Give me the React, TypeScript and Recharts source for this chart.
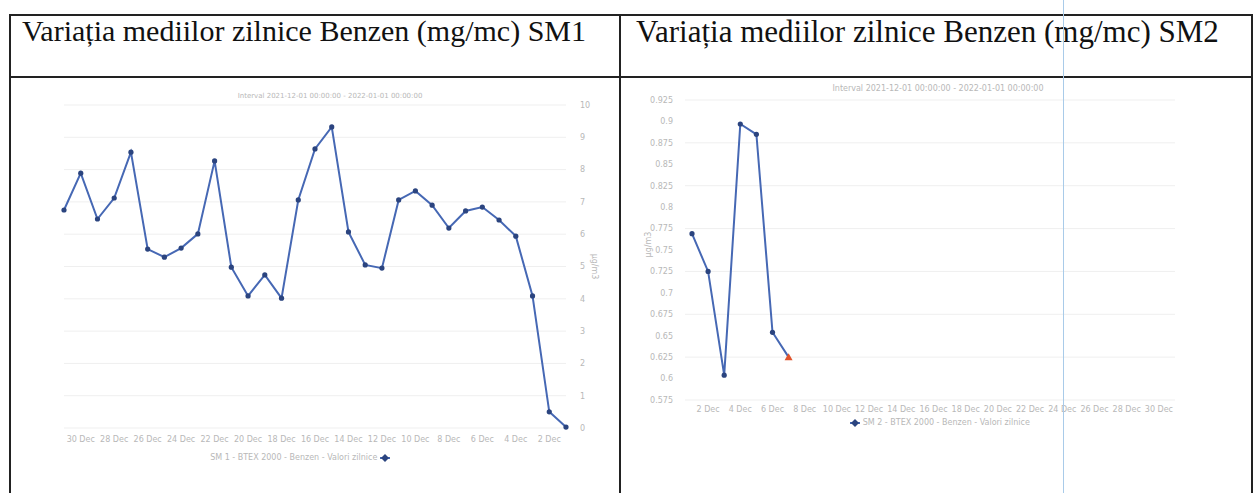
import { CartesianGrid, Line, LineChart, XAxis, YAxis } from "recharts";

// SM1: valori zilnice 1..31 Dec (graficul din scan e oglindit, deci axa X e inversata)
const sm1Days = [1, 2, 3, 4, 5, 6, 7, 8, 9, 10, 11, 12, 13, 14, 15, 16, 17, 18, 19, 20, 21, 22, 23, 24, 25, 26, 27, 28, 29, 30, 31];
const sm1Benzen = [
  0.03, 0.5, 4.09, 5.94, 6.44, 6.84, 6.72, 6.19, 6.9, 7.34, 7.06, 4.95, 5.05, 6.07, 9.32, 8.64,
  7.06, 4.02, 4.74, 4.09, 4.98, 8.27, 6.01, 5.57, 5.29, 5.54, 8.54, 7.12, 6.47, 7.89, 6.75,
];

// SM2: doar primele 7 zile
const sm2Days = [1, 2, 3, 4, 5, 6, 7];
const sm2Benzen = [0.769, 0.725, 0.604, 0.897, 0.885, 0.654, 0.625];

const dayTicks = [2, 4, 6, 8, 10, 12, 14, 16, 18, 20, 22, 24, 26, 28, 30];
const sm1Ticks = [0, 1, 2, 3, 4, 5, 6, 7, 8, 9, 10];
const sm2Ticks = [0.575, 0.6, 0.625, 0.65, 0.675, 0.7, 0.725, 0.75, 0.775, 0.8, 0.825, 0.85, 0.875, 0.9, 0.925];

const titleSm1 = "Variația mediilor zilnice Benzen (mg/mc) SM1";
const titleSm2 = "Variația mediilor zilnice Benzen (mg/mc) SM2";
const interval = "Interval 2021-12-01 00:00:00 - 2022-01-01 00:00:00";
const legendSm1 = "SM 1 - BTEX 2000 - Benzen - Valori zilnice";
const legendSm2 = "SM 2 - BTEX 2000 - Benzen - Valori zilnice";
const unit = "µg/m3";

const sm1Data = sm1Days.map((d, i) => ({ day: d, v: sm1Benzen[i] }));
const sm2Data = sm2Days.map((d, i) => ({ day: d, v: sm2Benzen[i] }));

const LINE = "#4668b4";
const MARK = "#2b447f";
const tick = { fontSize: 8, fill: "#b8b8b8", fontFamily: "DejaVu Sans" };
const small: React.CSSProperties = {
  position: "absolute",
  fontFamily: "DejaVu Sans",
  fontSize: 8,
  color: "#b8b8b8",
  whiteSpace: "nowrap",
};
const titleStyle: React.CSSProperties = {
  position: "absolute",
  top: 14,
  fontFamily: "Liberation Serif",
  color: "#111",
  whiteSpace: "nowrap",
};
const border = "#222";

function Sm2Dot(props: any) {
  const { cx, cy, index } = props;
  if (cx == null || cy == null) return null;
  if (index === sm2Benzen.length - 1) {
    return (
      <path
        key={`d${index}`}
        d={`M${cx},${cy - 4} L${cx + 4},${cy + 3} L${cx - 4},${cy + 3} Z`}
        fill="#e0532c"
      />
    );
  }
  return <circle key={`d${index}`} cx={cx} cy={cy} r={2.6} fill={MARK} />;
}

function Diamond() {
  return (
    <svg width={10} height={8} style={{ verticalAlign: "middle" }}>
      <line x1={0} y1={4} x2={10} y2={4} stroke={LINE} strokeWidth={2} />
      <path d="M5,0 L9,4 L5,8 L1,4 Z" fill={MARK} />
    </svg>
  );
}

export default function App() {
  return (
    <div
      style={{
        position: "absolute",
        left: 0,
        top: 0,
        width: 1256,
        height: 493,
        background: "#fff",
        overflow: "hidden",
      }}
    >
      {/* chenarul tabelului */}
      <div style={{ position: "absolute", left: 10, top: 14, width: 1242, height: 2, background: border }} />
      <div style={{ position: "absolute", left: 10, top: 76, width: 1242, height: 2, background: border }} />
      <div style={{ position: "absolute", left: 9, top: 14, width: 2, height: 479, background: border }} />
      <div style={{ position: "absolute", left: 619, top: 14, width: 2, height: 479, background: border }} />
      <div style={{ position: "absolute", left: 1251, top: 14, width: 2, height: 479, background: border }} />

      <div style={{ ...titleStyle, left: 22, fontSize: 30 }}>{titleSm1}</div>
      <div style={{ ...titleStyle, left: 636, fontSize: 31 }}>{titleSm2}</div>

      {/* SM1 */}
      <div style={{ position: "absolute", left: 11, top: 78 }}>
        <LineChart width={608} height={415} data={sm1Data} margin={{ top: 27, right: 18, bottom: 45, left: 53 }}>
          <CartesianGrid vertical={false} stroke="#efefef" />
          <XAxis
            dataKey="day"
            type="number"
            domain={[1, 31]}
            reversed
            ticks={dayTicks}
            tickFormatter={(d) => `${d} Dec`}
            tick={tick}
            axisLine={false}
            tickLine={false}
            height={20}
            interval={0}
          />
          <YAxis
            orientation="right"
            domain={[0, 10]}
            ticks={sm1Ticks}
            tick={tick}
            axisLine={false}
            tickLine={false}
            width={35}
            tickMargin={8}
          />
          <Line
            type="linear"
            dataKey="v"
            stroke={LINE}
            strokeWidth={2}
            dot={{ r: 2.6, fill: MARK, stroke: "none" }}
            isAnimationActive={false}
          />
        </LineChart>
      </div>
      <div style={{ ...small, left: 0, width: 660, top: 92, textAlign: "center", fontSize: 7 }}>{interval}</div>
      <div style={{ ...small, left: 582, top: 262, transform: "rotate(90deg)" }}>{unit}</div>
      <div style={{ ...small, left: 0, width: 600, top: 453, textAlign: "center" }}>
        {legendSm1} <Diamond />
      </div>

      {/* SM2 */}
      <div style={{ position: "absolute", left: 621, top: 78 }}>
        <LineChart width={635} height={415} data={sm2Data} margin={{ top: 22, right: 81, bottom: 73, left: 19 }}>
          <CartesianGrid vertical={false} stroke="#efefef" />
          <XAxis
            dataKey="day"
            type="number"
            domain={[1, 31]}
            ticks={dayTicks}
            tickFormatter={(d) => `${d} Dec`}
            tick={tick}
            axisLine={false}
            tickLine={false}
            height={20}
            interval={0}
            tickMargin={0}
            padding={{ left: 7, right: 0 }}
          />
          <YAxis
            domain={[0.575, 0.925]}
            ticks={sm2Ticks}
            tick={tick}
            axisLine={false}
            tickLine={false}
            width={45}
            tickMargin={6}
          />
          <Line
            type="linear"
            dataKey="v"
            stroke={LINE}
            strokeWidth={2}
            dot={Sm2Dot}
            isAnimationActive={false}
          />
        </LineChart>
      </div>
      <div style={{ ...small, left: 620, width: 636, top: 84, textAlign: "center" }}>{interval}</div>
      <div style={{ ...small, left: 636, top: 240, transform: "rotate(-90deg)" }}>{unit}</div>
      <div style={{ ...small, left: 620, width: 640, top: 418, textAlign: "center" }}>
        <Diamond /> {legendSm2}
      </div>

      {/* linia albastra din scan */}
      <div style={{ position: "absolute", left: 1063, top: 0, width: 1, height: 493, background: "#a9cbe9" }} />
    </div>
  );
}
